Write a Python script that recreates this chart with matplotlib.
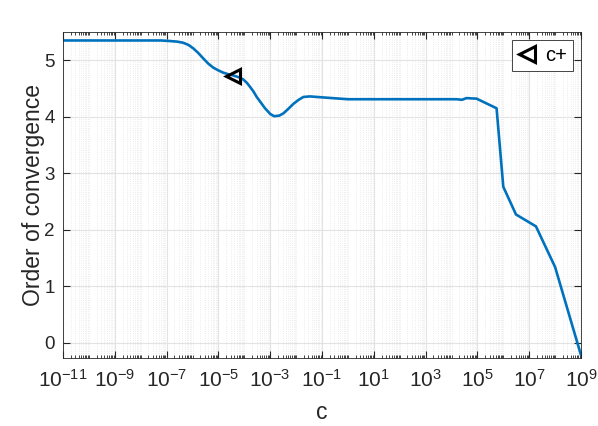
import numpy as np
import matplotlib
matplotlib.use('Agg')
import matplotlib.pyplot as plt
from matplotlib.ticker import FixedLocator, FuncFormatter

plt.rcParams['font.family'] = ['Liberation Sans', 'DejaVu Sans']
plt.rcParams['mathtext.fontset'] = 'custom'
plt.rcParams['mathtext.rm'] = 'Liberation Sans'
plt.rcParams['mathtext.it'] = 'Liberation Sans'

# log10(c) and order of convergence
log_c = [-11, -10, -9, -8, -7.64, -7.2, -6.87, -6.6, -6.36, -6.15, -5.97, -5.78, -5.58,
         -5.39, -5.2, -5.0, -4.81, -4.6, -4.42, -4.22, -4.04, -3.9, -3.78, -3.65,
         -3.52, -3.36, -3.2, -3.0, -2.85, -2.65, -2.49, -2.3, -2.1, -1.9, -1.72,
         -1.46, -1.2, -0.9, -0.6, -0.3, 0, 1, 2, 3, 4.0, 4.2, 4.4, 4.58,
         4.97, 5.74, 6.0, 6.49, 7.26, 8.0, 9.0]
order = [5.35, 5.35, 5.35, 5.35, 5.35, 5.35, 5.34, 5.33, 5.31, 5.27, 5.21, 5.13, 5.03,
         4.94, 4.87, 4.82, 4.78, 4.75, 4.73, 4.70, 4.66, 4.60, 4.53, 4.45,
         4.35, 4.25, 4.15, 4.05, 4.01, 4.02, 4.06, 4.14, 4.23, 4.30, 4.35,
         4.36, 4.35, 4.34, 4.33, 4.32, 4.31, 4.31, 4.31, 4.31, 4.31, 4.31, 4.30, 4.33,
         4.32, 4.15, 2.76, 2.27, 2.06, 1.34, -0.22]

# c+ marker
cplus_log = -4.42
cplus_order = 4.73

c = 10.0 ** np.array(log_c)

fig = plt.figure(figsize=(5.98, 4.26), dpi=100)
ax = fig.add_axes([63 / 598, 1 - 358 / 426, 518 / 598, 326 / 426])

ax.plot(c, order, color='#0072BD', linewidth=1.9, solid_joinstyle='round',
        solid_capstyle='round')
ax.plot(10.0 ** cplus_log, cplus_order, linestyle='none', marker='<', markersize=10,
        markerfacecolor='none', markeredgecolor='black', markeredgewidth=2.2, label='c+')

ax.set_xscale('log')
ax.set_xlim(1e-11, 1e9)
ax.set_ylim(-0.27, 5.5)

major = [10.0 ** k for k in range(-11, 10, 2)]
minor = []
for k in range(-11, 9):
    for m in range(1, 10):
        if m == 1 and k % 2 != 0:
            continue
        minor.append(m * 10.0 ** k)
ax.xaxis.set_major_locator(FixedLocator(major))
ax.xaxis.set_minor_locator(FixedLocator(minor))
ax.xaxis.set_major_formatter(FuncFormatter(lambda v, p: r'$10^{%d}$' % round(np.log10(v))))
ax.xaxis.set_minor_formatter(FuncFormatter(lambda v, p: ''))
ax.set_yticks([0, 1, 2, 3, 4, 5])

ax.grid(True, which='major', color='#e3e3e3', linewidth=0.8)
ax.grid(True, which='minor', axis='x', color='#e6e6e6', linewidth=0.6, linestyle=':')
ax.set_axisbelow(True)

ax.tick_params(which='both', direction='in', top=True, right=True, colors='#262626')
ax.tick_params(axis='y', labelsize=13.5, pad=6)
ax.tick_params(axis='x', labelsize=15, pad=8)
ax.tick_params(which='major', length=5)
ax.tick_params(which='minor', length=2.5)
for s in ax.spines.values():
    s.set_color('#262626')
    s.set_linewidth(0.6)

ax.set_xlabel('c', fontsize=16.5, color='#262626', labelpad=7)
ax.set_ylabel('Order of convergence', fontsize=16.5, color='#262626', labelpad=-0.5)

leg = ax.legend(loc='upper right', fontsize=14.5, handlelength=0.9, handletextpad=0.45,
                borderpad=0.3, markerscale=1.15, fancybox=False, framealpha=1,
                borderaxespad=0.4)
leg.get_frame().set_edgecolor('#262626')
leg.get_frame().set_linewidth(0.6)

fig.savefig('out.png', dpi=100)
